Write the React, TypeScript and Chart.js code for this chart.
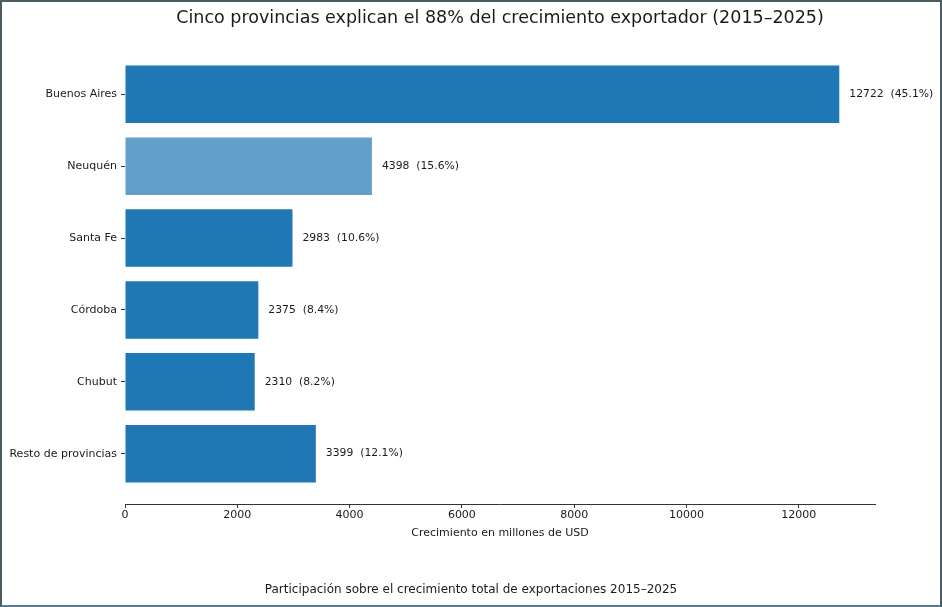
import { useEffect, useRef } from "react"
import { Chart, registerables } from "chart.js"

Chart.register(...registerables)

// Data
const provinces = ["Buenos Aires", "Neuquén", "Santa Fe", "Córdoba", "Chubut", "Resto de provincias"]
const growth = [12722, 4398, 2983, 2375, 2310, 3399] // millones de USD
const highlighted = "Neuquén"
const xTicks = [0, 2000, 4000, 6000, 8000, 10000, 12000]

const FONT = "'DejaVu Sans', sans-serif"
const TEXT = "#1a1a1a"
const TITLE = "Cinco provincias explican el 88% del crecimiento exportador (2015–2025)"

// value + share labels to the right of each bar, and the title centred over the axes
const annotations = {
  id: "annotations",
  afterDatasetsDraw(chart: Chart) {
    const ctx = chart.ctx
    const total = growth.reduce((a, b) => a + b, 0)
    const meta = chart.getDatasetMeta(0)
    ctx.save()
    ctx.font = `10.8px ${FONT}`
    ctx.fillStyle = TEXT
    ctx.textAlign = "left"
    ctx.textBaseline = "middle"
    meta.data.forEach((bar: any, i: number) => {
      const pct = ((growth[i] / total) * 100).toFixed(1)
      ctx.fillText(`${growth[i]}  (${pct}%)`, bar.x + 10, bar.y)
    })
    const { left, right } = chart.chartArea
    ctx.font = `17.5px ${FONT}`
    ctx.textAlign = "center"
    ctx.fillText(TITLE, (left + right) / 2, 18)
    ctx.restore()
  },
}

export default function App() {
  const chartRef = useRef<HTMLCanvasElement>(null)
  const chartInstance = useRef<Chart | null>(null)

  useEffect(() => {
    document.body.style.margin = "0"
    if (!chartRef.current) return
    const ctx = chartRef.current.getContext("2d")
    if (!ctx) return

    if (chartInstance.current) {
      chartInstance.current.destroy()
    }

    const axisGrid = {
      display: true,
      drawOnChartArea: false,
      drawTicks: true,
      tickLength: 4,
      offset: false,
      color: "#333",
    }

    chartInstance.current = new Chart(ctx, {
      type: "bar",
      data: {
        datasets: [
          {
            data: growth.map((v, i) => ({ x: v, y: i })),
            backgroundColor: provinces.map((p) =>
              p === highlighted ? "rgba(31, 119, 180, 0.7)" : "#1f77b4"
            ),
            borderWidth: 0,
            barPercentage: 0.8,
            categoryPercentage: 1,
          },
        ],
      },
      plugins: [annotations],
      options: {
        indexAxis: "y",
        animation: false,
        responsive: false,
        layout: { padding: { left: 0, right: 0, top: 44, bottom: 0 } },
        scales: {
          y: {
            type: "linear",
            reverse: true,
            offset: false,
            min: -0.7,
            max: provinces.length - 0.3,
            afterBuildTicks: (scale: any) => {
              scale.ticks = provinces.map((_, i) => ({ value: i }))
            },
            afterFit: (scale: any) => {
              scale.width = 125
            },
            ticks: {
              padding: 4,
              color: TEXT,
              font: { family: FONT, size: 11 },
              callback: (v: any) => provinces[v] ?? "",
            },
            grid: axisGrid,
            border: { display: false },
          },
          // empty right-hand axis: keeps the right margin so the caption centres on the figure
          yRight: {
            type: "linear",
            position: "right",
            display: true,
            ticks: { display: false },
            grid: { display: false },
            border: { display: false },
            afterFit: (scale: any) => {
              scale.width = 67
            },
          },
          x: {
            type: "linear",
            min: 0,
            max: Math.max(...growth) * 1.05,
            afterBuildTicks: (scale: any) => {
              scale.ticks = xTicks.map((v) => ({ value: v }))
            },
            ticks: {
              padding: 1,
              color: TEXT,
              maxRotation: 0,
              autoSkip: false,
              font: { family: FONT, size: 11 },
              callback: (v: any) => String(v),
            },
            grid: axisGrid,
            border: { display: true, color: "#333", width: 1 },
            title: {
              display: true,
              text: "Crecimiento en millones de USD",
              color: TEXT,
              font: { family: FONT, size: 11 },
              padding: { top: 3, bottom: 0 },
            },
          },
        },
        plugins: {
          legend: { display: false },
          tooltip: { enabled: false },
          title: { display: false },
          subtitle: {
            display: true,
            position: "bottom",
            text: "Participación sobre el crecimiento total de exportaciones 2015–2025",
            color: TEXT,
            font: { family: FONT, size: 12 },
            padding: { top: 43.4, bottom: 9.8 },
          },
        },
      },
    })

    return () => {
      if (chartInstance.current) {
        chartInstance.current.destroy()
        chartInstance.current = null
      }
    }
  }, [])

  return (
    <div style={{ position: "relative", width: 942, height: 607, background: "#fff" }}>
      <canvas ref={chartRef} width={942} height={607} />
      <div
        style={{
          position: "absolute",
          inset: 0,
          border: "2px solid #4b5b62",
          borderBottomColor: "#5a7a8a",
          pointerEvents: "none",
        }}
      />
    </div>
  )
}
